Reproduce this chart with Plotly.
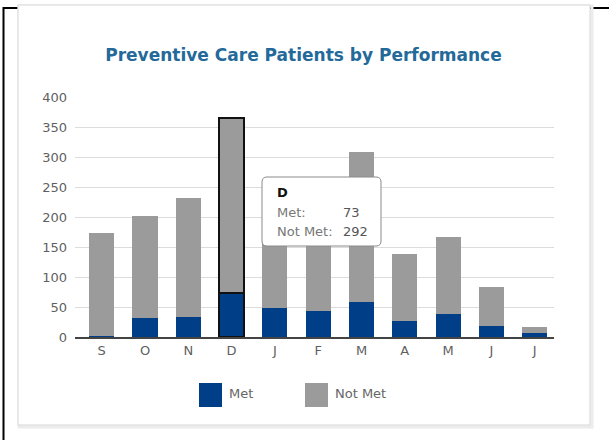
import plotly.graph_objects as go

months = ["Sep", "Oct", "Nov", "Dec", "Jan", "Feb", "Mar", "Apr", "May", "Jun", "Jul"]
tick_labels = ["S", "O", "N", "D", "J", "F", "M", "A", "M", "J", "J"]
met = [2, 32, 34, 73, 49, 44, 58, 27, 38, 18, 7]
not_met = [172, 170, 198, 292, 149, 160, 250, 111, 128, 65, 10]
highlight_index = 3

W, H = 609, 440
L, R, T, B = 75, 554, 97, 337


def px(x):
    return (x - L) / (R - L)


def py(y):
    return (B - y) / (B - T)


FONT = "DejaVu Sans"
FS = 13
line_w = [2 if i == highlight_index else 0 for i in range(len(months))]

fig = go.Figure()
fig.add_bar(x=months, y=met, name="Met", marker=dict(color="#003f87", line=dict(color="#111", width=line_w)))
fig.add_bar(x=months, y=not_met, name="Not Met", marker=dict(color="#9b9b9b", line=dict(color="#111", width=line_w)))

shapes = []
# outer frame
shapes.append(dict(type="rect", xref="paper", yref="paper", x0=px(3.5), x1=px(640), y0=py(8), y1=py(470),
                   line=dict(color="#000", width=2), layer="below"))
# card shadow and card
shapes.append(dict(type="rect", xref="paper", yref="paper", x0=px(19), x1=px(592), y0=py(6), y1=py(427),
                   line=dict(color="#ececec", width=3), layer="below"))
shapes.append(dict(type="rect", xref="paper", yref="paper", x0=px(18), x1=px(590), y0=py(5), y1=py(425),
                   line=dict(color="#d6d6d6", width=1), fillcolor="white", layer="below"))
# legend swatches
shapes.append(dict(type="rect", xref="paper", yref="paper", x0=px(199), x1=px(222), y0=py(383), y1=py(407),
                   line=dict(color="#003f87", width=0), fillcolor="#003f87"))
shapes.append(dict(type="rect", xref="paper", yref="paper", x0=px(305), x1=px(328), y0=py(383), y1=py(407),
                   line=dict(color="#9b9b9b", width=0), fillcolor="#9b9b9b"))

# tooltip rounded box
x0, x1, y0, y1, r = 262, 381, 177, 246, 5
pts = [
    (x0 + r, y0), (x1 - r, y0), ("Q", x1, y0, x1, y0 + r), (x1, y1 - r), ("Q", x1, y1, x1 - r, y1),
    (x0 + r, y1), ("Q", x0, y1, x0, y1 - r), (x0, y0 + r), ("Q", x0, y0, x0 + r, y0),
]
path = ""
for i, p in enumerate(pts):
    if p[0] == "Q":
        path += f" Q {px(p[1])},{py(p[2])} {px(p[3])},{py(p[4])}"
    else:
        path += (" M " if i == 0 else " L ") + f"{px(p[0])},{py(p[1])}"
path += " Z"
shapes.append(dict(type="path", xref="paper", yref="paper", path=path,
                   line=dict(color="#8a8a8a", width=1), fillcolor="white"))


def note(x, y, text, color, bold=False):
    return dict(x=px(x), y=py(y), xref="paper", yref="paper", text=("<b>%s</b>" % text) if bold else text,
                showarrow=False, xanchor="left", yanchor="middle", font=dict(family=FONT, size=FS, color=color))


annotations = [
    note(227, 393, "Met", "#666"),
    note(333, 393, "Not Met", "#666"),
    note(275, 192, tick_labels[highlight_index], "#111", bold=True),
    note(275, 212, "Met:", "#777"),
    note(275, 231, "Not Met:", "#777"),
    note(341, 212, str(met[highlight_index]), "#555"),
    note(341, 231, str(not_met[highlight_index]), "#555"),
]

fig.update_layout(
    width=W, height=H,
    margin=dict(l=L, r=W - R, t=T, b=H - B, pad=0),
    barmode="stack",
    bargap=0.42,
    showlegend=False,
    paper_bgcolor="white",
    plot_bgcolor="rgba(0,0,0,0)",
    title=dict(text="<b>Preventive Care Patients by Performance</b>", xref="container", x=303.5 / W, xanchor="center",
               y=1 - 55 / H, yanchor="middle", font=dict(family=FONT, size=17, color="#23699a")),
    xaxis=dict(type="category", categoryorder="array", categoryarray=months, tickvals=months, ticktext=tick_labels,
               range=[-0.617, 10.446], showline=True, linecolor="#444", linewidth=2, showgrid=False,
               ticks="", tickfont=dict(family=FONT, size=FS, color="#5f5f5f"), fixedrange=True),
    yaxis=dict(range=[0, 400], dtick=50, showgrid=True, gridcolor="#dcdcdc", gridwidth=1, zeroline=False,
               showline=False, ticks="", ticklabelstandoff=7, tickfont=dict(family=FONT, size=FS, color="#5f5f5f")),
    shapes=shapes,
    annotations=annotations,
)

fig.write_html("out.html", config={"displayModeBar": False},
               post_script="document.body.style.margin='0';document.body.style.overflow='hidden';")
